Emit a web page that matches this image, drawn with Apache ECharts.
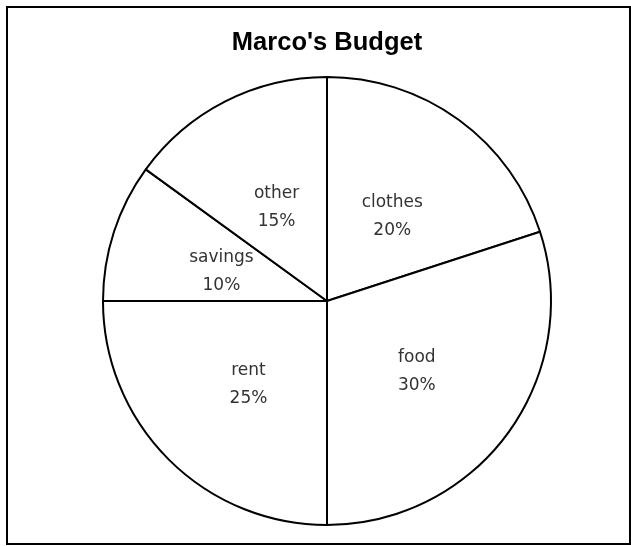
<!DOCTYPE html>
<html>
<head>
<meta charset="utf-8">
<script src="https://cdn.jsdelivr.net/npm/echarts@6/dist/echarts.min.js"></script>
<style>
  html, body { margin: 0; padding: 0; background: #fff; }
  #chart { width: 631px; height: 546px; }
</style>
</head>
<body>
<div id="chart"></div>
<script>
// Budget categories and their shares (percent)
const categories = ['clothes', 'food', 'rent', 'savings', 'other'];
const shares = [20, 30, 25, 10, 15];

const chartTitle = "Marco's Budget";

const pieCenter = [327, 301];
const pieRadius = 224;

// Nudge each label slightly toward the centre and down a little,
// following the direction of its own slice.
const total = shares.reduce((a, b) => a + b, 0);
let running = 0;
const labelOffsets = shares.map(v => {
  const mid = (90 - (running + v / 2) / total * 360) * Math.PI / 180;
  running += v;
  const inward = -4;
  return [inward * Math.cos(mid), -inward * Math.sin(mid) + 5];
});

const chart = echarts.init(document.getElementById('chart'), null, { renderer: 'canvas' });

chart.setOption({
  animation: false,
  backgroundColor: '#ffffff',
  graphic: [
    {
      type: 'rect',
      shape: { x: 7, y: 7, width: 623, height: 537 },
      style: { fill: 'none', stroke: '#000', lineWidth: 2 },
      silent: true
    },
    {
      type: 'text',
      x: pieCenter[0],
      y: 43,
      silent: true,
      style: {
        text: chartTitle,
        align: 'center',
        verticalAlign: 'middle',
        fontFamily: 'Liberation Sans, Arial, sans-serif',
        fontWeight: 'bold',
        fontSize: 25.5,
        fill: '#000'
      }
    }
  ],
  series: [{
    type: 'pie',
    center: pieCenter,
    radius: [0, pieRadius],
    startAngle: 90,
    clockwise: true,
    avoidLabelOverlap: false,
    itemStyle: { color: '#ffffff', borderColor: '#000', borderWidth: 2 },
    label: {
      position: 'inside',
      formatter: p => p.name + '\n' + p.value + '%',
      fontFamily: 'DejaVu Sans, Verdana, sans-serif',
      fontSize: 17,
      lineHeight: 28,
      color: '#333'
    },
    labelLine: { show: false },
    emphasis: { disabled: true },
    data: categories.map((c, i) => ({
      name: c,
      value: shares[i],
      label: { offset: labelOffsets[i] }
    }))
  }]
});
</script>
</body>
</html>
